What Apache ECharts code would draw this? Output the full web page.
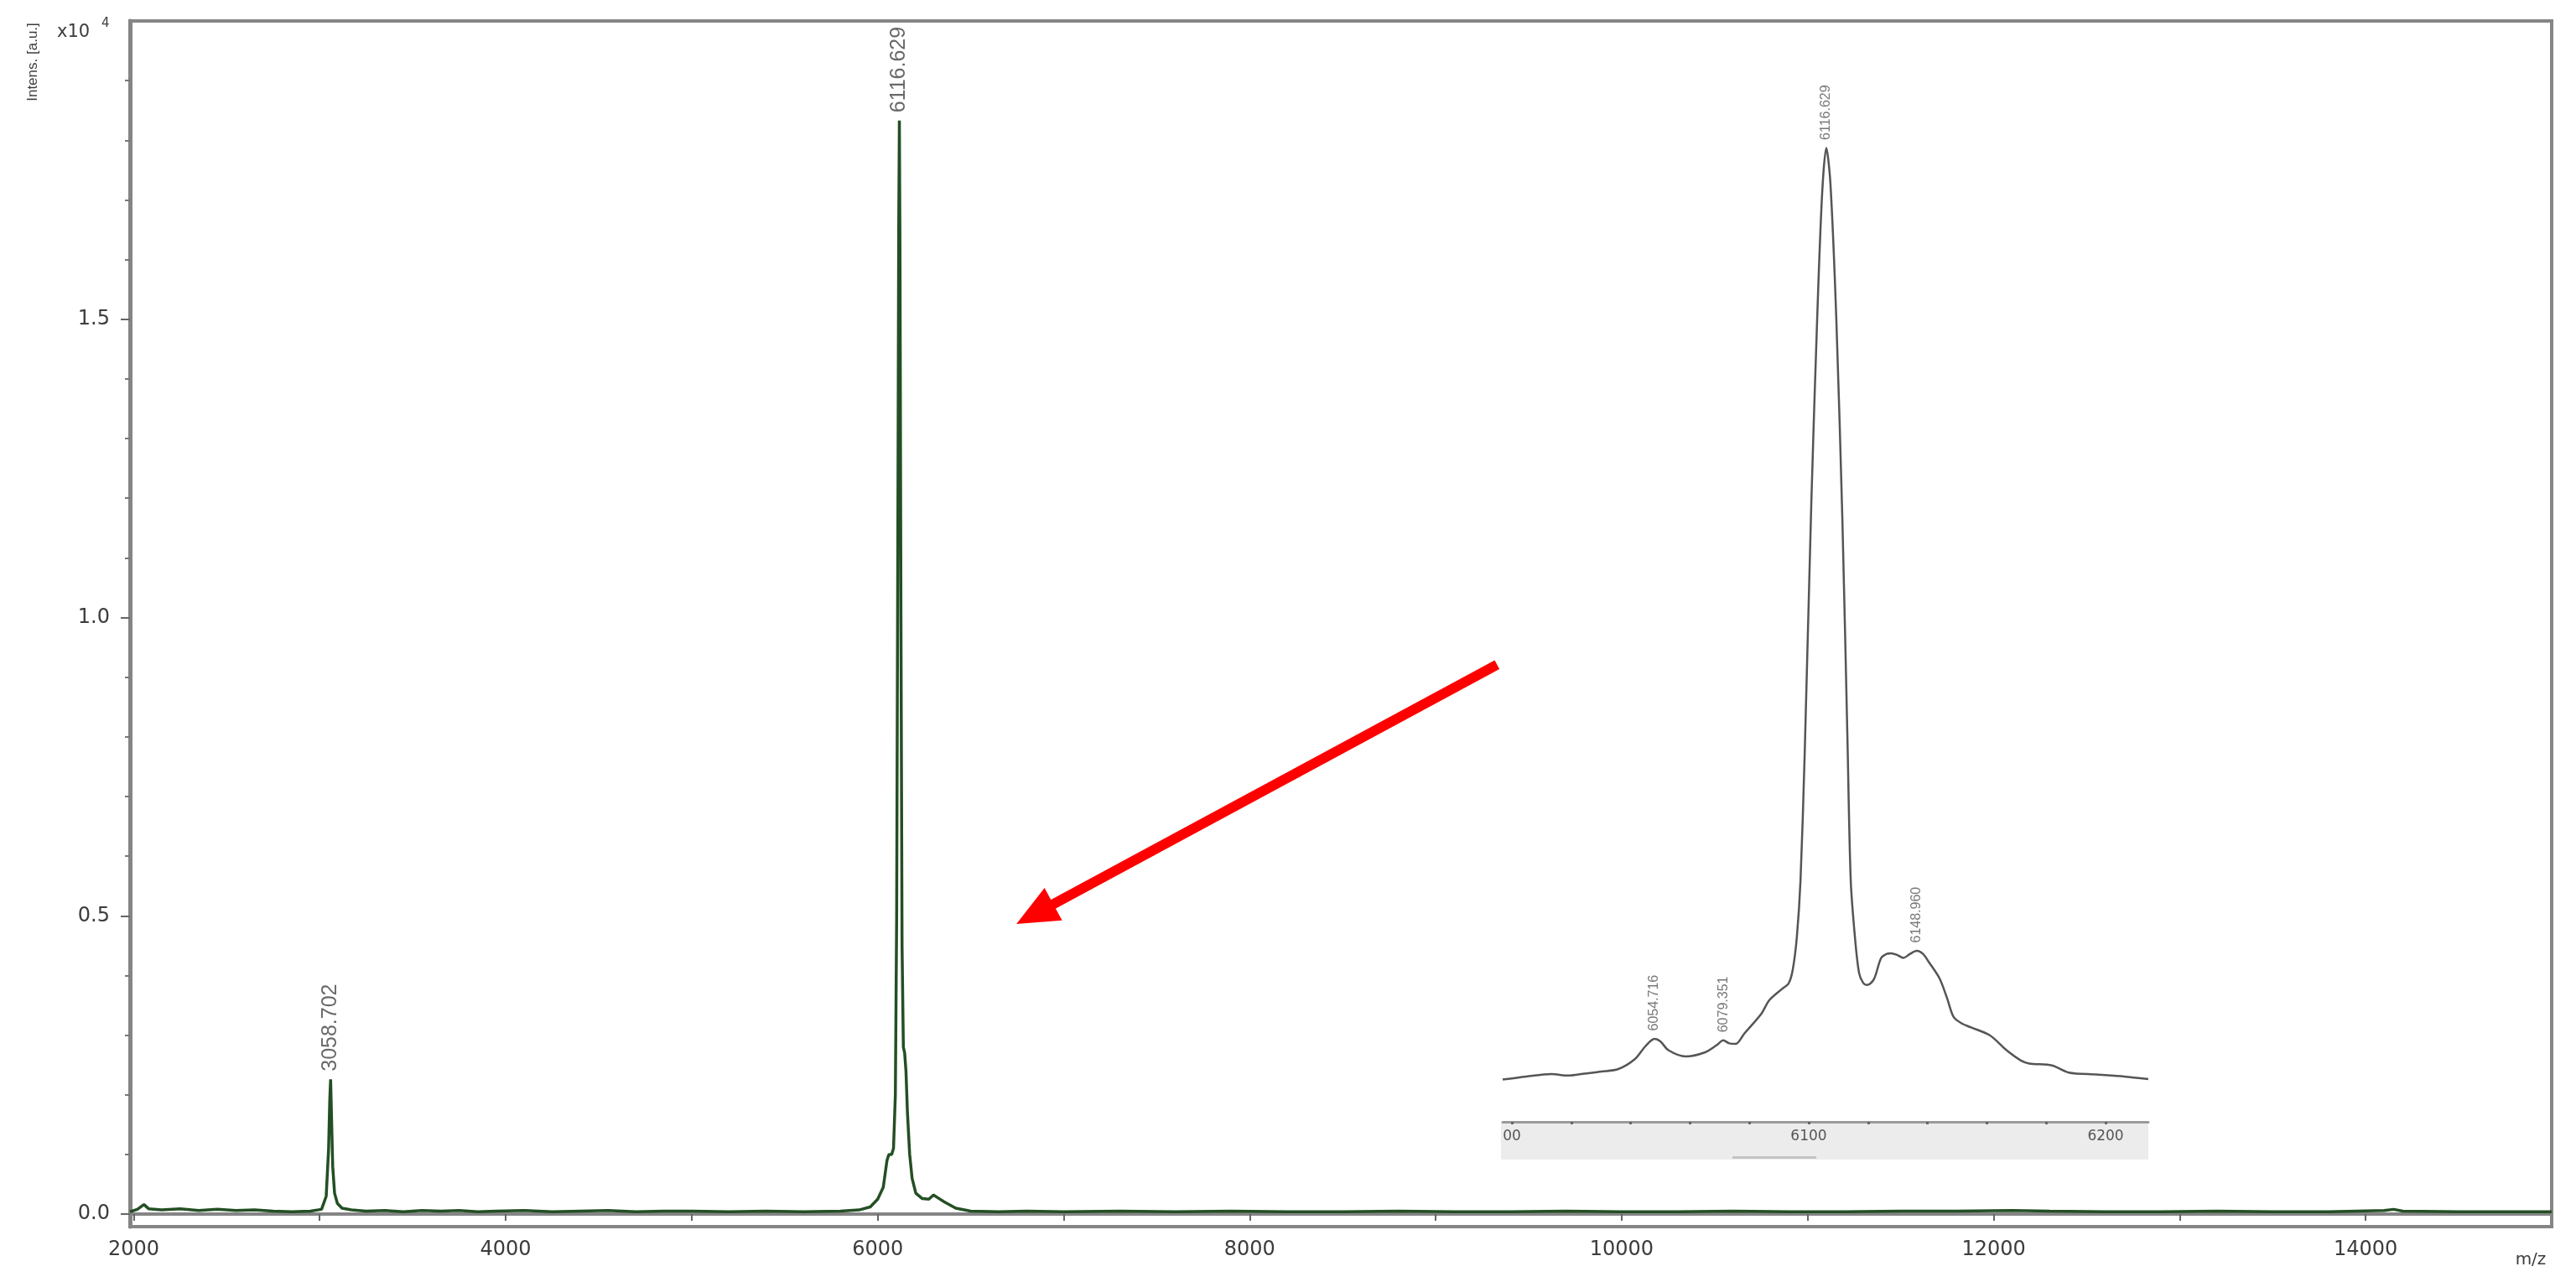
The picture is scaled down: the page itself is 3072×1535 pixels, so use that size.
<!DOCTYPE html>
<html>
<head>
<meta charset="utf-8">
<script src="https://cdn.jsdelivr.net/npm/echarts@6.0.0/dist/echarts.min.js"></script>
<style>
  html, body { margin: 0; padding: 0; background: #fff; }
  #chart { width: 3072px; height: 1535px; }
</style>
</head>
<body>
<div id="chart"></div>
<script>
// full spectrum, m/z and intensity (x10^4)
const mzMain = [1980, 2020, 2055, 2080, 2150, 2250, 2350, 2450, 2550, 2650, 2750, 2850, 2950,
  3010, 3035, 3048, 3054, 3058.7, 3063, 3070, 3080, 3095, 3120, 3170, 3250, 3350, 3450, 3550,
  3650, 3750, 3850, 3950, 4100, 4250, 4400, 4550, 4700, 4850, 5000, 5200, 5400, 5600, 5800,
  5900, 5960, 6000, 6030, 6050, 6060, 6075, 6085, 6095, 6102, 6108, 6113, 6116.6, 6120, 6125,
  6131, 6138, 6145, 6152, 6160, 6172, 6185, 6205, 6240, 6275, 6300, 6320, 6360, 6420, 6500,
  6650, 6800, 7000, 7300, 7600, 7900, 8200, 8500, 8800, 9100, 9400, 9700, 10000, 10300, 10600,
  10900, 11200, 11500, 11800, 12100, 12300, 12600, 12900, 13200, 13500, 13800, 14100, 14150,
  14200, 14500, 14800, 15000];
const intMain = [0.004, 0.008, 0.016, 0.009, 0.007, 0.009, 0.006, 0.008, 0.006, 0.007, 0.005, 0.004, 0.005,
  0.008, 0.03, 0.11, 0.19, 0.226, 0.17, 0.08, 0.035, 0.018, 0.01, 0.007, 0.005, 0.006, 0.004, 0.006,
  0.005, 0.006, 0.004, 0.005, 0.006, 0.004, 0.005, 0.006, 0.004, 0.005, 0.005, 0.004, 0.005, 0.004, 0.005,
  0.007, 0.012, 0.025, 0.045, 0.09, 0.10, 0.10, 0.11, 0.2, 0.5, 1.1, 1.65, 1.833, 1.6, 1.0,
  0.45, 0.28, 0.27, 0.24, 0.17, 0.10, 0.06, 0.035, 0.026, 0.025, 0.032, 0.028, 0.02, 0.01, 0.005,
  0.004, 0.005, 0.004, 0.005, 0.004, 0.005, 0.004, 0.004, 0.005, 0.004, 0.004, 0.005, 0.004, 0.004, 0.005,
  0.004, 0.004, 0.005, 0.005, 0.006, 0.005, 0.004, 0.004, 0.005, 0.004, 0.004, 0.006, 0.008,
  0.005, 0.004, 0.004, 0.004];

const mainPeakMz = [3058.702, 6116.629];
const mainPeakInt = [0.226, 1.833];
const mainPeakText = ['3058.702', '6116.629'];

// zoomed inset around the main peak (relative intensity)
const mzInset = [5996.9, 6004.85, 6013.26, 6018.97, 6024.58, 6030.19, 6035.89, 6041.5, 6044.96, 6048.04,
  6050.01, 6052.81, 6058.52, 6064.97, 6068.9, 6071.23, 6073.2, 6075.44, 6078.25, 6083.95, 6086.75, 6090.96,
  6093.21, 6094.61, 6096.01, 6097.23, 6098.63, 6100.87, 6102.84, 6104.52, 6105.92, 6107.32, 6109.29, 6111.34,
  6113.03, 6114.15, 6115.55, 6116.95, 6118.36, 6119.76, 6122.0, 6124.34, 6126.3, 6127.71, 6129.67, 6131.91,
  6134.16, 6136.4, 6138.46, 6140.42, 6144.07, 6146.59, 6148.84, 6151.74, 6154.54, 6160.99, 6166.7, 6171.46,
  6174.27, 6181.94, 6187.55, 6196.9, 6206.25, 6214.38];
const intInset = [4.2, 4.5, 4.75, 4.6, 4.8, 5.0, 5.25, 6.25, 7.5, 8.25,
  8.0, 7.1, 6.5, 6.9, 7.6, 8.1, 7.8, 7.75, 8.75, 10.7, 12.1, 13.2,
  13.75, 15.1, 18.4, 24, 36.5, 61.5, 79.8, 92.3, 96.8, 93.2, 79.8, 59.8,
  38.2, 24, 18.4, 14.8, 13.8, 13.6, 14.2, 16.25, 16.7, 16.75, 16.6, 16.3,
  16.7, 17.0, 16.7, 15.9, 14.25, 12.3, 10.4, 9.75, 9.4, 8.6, 7.1, 6.1,
  5.8, 5.6, 4.9, 4.7, 4.5, 4.25];

const insetPeakMz = [6048.04, 6071.23, 6105.92, 6136.4];
const insetPeakInt = [8.25, 8.1, 96.8, 17.0];
const insetPeakText = ['6054.716', '6079.351', '6116.629', '6148.960'];

// axis ticks
const xLabelTicks = [2000, 4000, 6000, 8000, 10000, 12000, 14000];
const xAllTicks = [2000, 3000, 4000, 5000, 6000, 7000, 8000, 9000, 10000, 11000, 12000, 13000, 14000];
const yLabelTicks = [0, 0.5, 1.0, 1.5];
const yMinorTicks = [0.1, 0.2, 0.3, 0.4, 0.6, 0.7, 0.8, 0.9, 1.1, 1.2, 1.3, 1.4, 1.6, 1.7, 1.8, 1.9];
const insetLabelTicks = [6000, 6100, 6200];
const insetTicks = [6000, 6020, 6040, 6060, 6080, 6100, 6120, 6140, 6160, 6180, 6200];

// red arrow (tail -> head) in data coords
const arrowFrom = [9330, 0.921];
const arrowTo = [6845, 0.503];

const axisGray = '#858585';
const textGray = '#3c3c3c';

function zip(a, b) { return a.map((v, i) => [v, b[i]]); }

let chartObj = echarts.init(document.getElementById('chart'));

let peakLabel = (size, color, dist) => ({
  show: true,
  position: 'top',
  distance: dist,
  rotate: 90,
  align: 'left',
  verticalAlign: 'middle',
  fontSize: size,
  color: color,
  fontFamily: 'Liberation Sans',
  formatter: p => p.value[2]
});

let options = {
  animation: false,
  backgroundColor: '#fff',
  grid: [
    { left: 155, right: 29, top: 25, bottom: 72, show: true, borderColor: axisGray, borderWidth: 4, backgroundColor: 'transparent' },
    { left: 1792, right: 510, top: 138, bottom: 197 },
    { left: 1790, right: 510, top: 1338, bottom: 152, show: true, backgroundColor: '#ececec', borderWidth: 0, z: -1 }
  ],
  xAxis: [
    {
      type: 'value', gridIndex: 0, min: 1980, max: 15000,
      axisLine: { show: true, lineStyle: { color: axisGray, width: 4 } },
      axisTick: { show: true, customValues: xAllTicks, length: 8, lineStyle: { color: '#666', width: 2 } },
      axisLabel: { customValues: xLabelTicks, margin: 16, fontSize: 24, color: textGray, fontFamily: 'DejaVu Sans',
        formatter: v => String(v) },
      splitLine: { show: false }
    },
    {
      type: 'value', gridIndex: 1, min: 5996.9, max: 6214.4,
      axisLine: { show: true, lineStyle: { color: '#9a9a9a', width: 3 } },
      axisTick: { show: true, customValues: insetTicks, length: 3, lineStyle: { color: '#666', width: 3 } },
      axisLabel: {
        customValues: insetLabelTicks, margin: 9, fontSize: 17, color: '#555', fontFamily: 'DejaVu Sans',
        formatter: v => (v === 6000 ? '00' : String(v))
      },
      splitLine: { show: false }
    },
    { type: 'value', gridIndex: 2, show: false, min: 0, max: 1 }
  ],
  yAxis: [
    {
      type: 'value', gridIndex: 0, min: -0.021, max: 2.0,
      axisLine: { show: true, lineStyle: { color: axisGray, width: 5 } },
      axisTick: { show: true, customValues: yLabelTicks, length: 11, lineStyle: { color: '#666', width: 2 } },
      axisLabel: { customValues: yLabelTicks, margin: 24, fontSize: 24, color: textGray, fontFamily: 'DejaVu Sans',
        formatter: v => v.toFixed(1) },
      splitLine: { show: false }
    },
    {
      type: 'value', gridIndex: 0, min: -0.021, max: 2.0, position: 'left',
      axisLine: { show: false },
      axisTick: { show: true, customValues: yMinorTicks, length: 6, lineStyle: { color: '#777', width: 2 } },
      axisLabel: { show: false },
      splitLine: { show: false }
    },
    { type: 'value', gridIndex: 1, show: false, min: 0, max: 100 },
    { type: 'value', gridIndex: 2, show: false, min: 0, max: 1 }
  ],
  graphic: [
    { type: 'text', x: 68, y: 28, style: { text: 'x10', fontSize: 21, fill: textGray, fontFamily: 'DejaVu Sans' } },
    { type: 'text', x: 121, y: 21, style: { text: '4', fontSize: 15, fill: textGray, fontFamily: 'DejaVu Sans' } },
    { type: 'text', x: 39, y: 74, rotation: Math.PI / 2,
      style: { text: 'Intens. [a.u.]', fontSize: 17, fill: textGray, fontFamily: 'Liberation Sans', align: 'center', verticalAlign: 'middle' } },
    { type: 'text', x: 3018, y: 1503,
      style: { text: 'm/z', fontSize: 20, fill: textGray, fontFamily: 'DejaVu Sans', align: 'center', verticalAlign: 'middle' } },
    { type: 'rect', shape: { x: 2066, y: 1379, width: 100, height: 3 }, style: { fill: '#c4c4c4' } }
  ],
  series: [
    {
      name: 'spectrum', type: 'line', xAxisIndex: 0, yAxisIndex: 0,
      data: zip(mzMain, intMain),
      symbol: 'none', smooth: false,
      lineStyle: { color: '#244f24', width: 3.5 },
      markLine: {
        silent: true,
        symbol: ['none', 'triangle'],
        symbolSize: [44, 50],
        label: { show: false },
        lineStyle: { color: '#ff0000', width: 12, type: 'solid' },
        data: [[{ coord: arrowFrom }, { coord: arrowTo }]]
      }
    },
    {
      name: 'peaks', type: 'scatter', xAxisIndex: 0, yAxisIndex: 0,
      data: mainPeakMz.map((m, i) => [m, mainPeakInt[i], mainPeakText[i]]),
      symbolSize: 1, itemStyle: { color: 'rgba(0,0,0,0)' },
      label: peakLabel(25, '#444', 9)
    },
    {
      name: 'inset', type: 'line', xAxisIndex: 1, yAxisIndex: 2,
      data: zip(mzInset, intInset),
      symbol: 'none', smooth: 0.3,
      lineStyle: { color: '#555', width: 2.5 }
    },
    {
      name: 'insetPeaks', type: 'scatter', xAxisIndex: 1, yAxisIndex: 2,
      data: insetPeakMz.map((m, i) => [m, insetPeakInt[i], insetPeakText[i]]),
      symbolSize: 1, itemStyle: { color: 'rgba(0,0,0,0)' },
      label: peakLabel(16, '#555', 9)
    }
  ]
};
chartObj.setOption(options);
</script>
</body>
</html>
